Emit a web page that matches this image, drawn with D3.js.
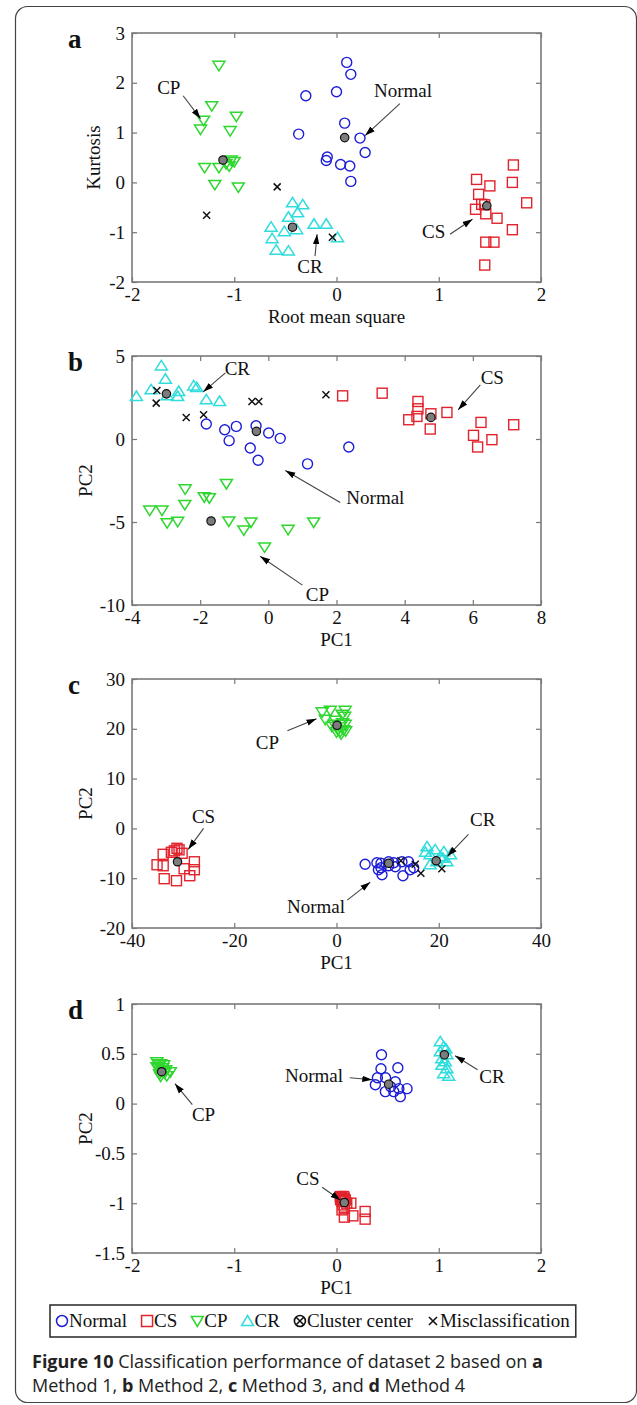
<!DOCTYPE html>
<html>
<head>
<meta charset="utf-8">
<script src="https://d3js.org/d3.v7.min.js"></script>
<style>
	body { margin: 0; background: #fff; }
	svg text { font-family: "Liberation Serif", "Times New Roman", serif; }
	svg .caption text { font-family: "Open Sans", "Noto Sans", sans-serif; }
</style>
</head>
<body>
<script>
// panel a : Method 1
const aNormal = [[0.10,2.41],[0.14,2.17],[-0.30,1.74],[0.00,1.82],[0.08,1.19],[-0.37,0.97],[0.23,0.89],[0.28,0.60],[-0.09,0.51],[-0.10,0.44],[0.04,0.36],[0.13,0.33],[0.14,0.02]];
const aCS = [[1.73,0.35],[1.72,0.00],[1.37,0.06],[1.50,-0.07],[1.39,-0.24],[1.86,-0.41],[1.42,-0.44],[1.36,-0.54],[1.46,-0.63],[1.57,-0.72],[1.72,-0.95],[1.46,-1.20],[1.54,-1.20],[1.45,-1.66],[1.45,-0.45]];
const aCP = [[-1.15,2.35],[-1.22,1.54],[-0.98,1.33],[-1.30,1.25],[-1.33,1.07],[-1.04,1.04],[-1.29,0.30],[-1.15,0.30],[-1.05,0.33],[-1.00,0.42],[-1.03,0.45],[-1.08,0.38],[-1.19,-0.04],[-0.96,-0.09]];
const aCR = [[-0.43,-0.41],[-0.33,-0.45],[-0.38,-0.61],[-0.47,-0.70],[-0.64,-0.90],[-0.51,-0.99],[-0.39,-0.95],[-0.22,-0.84],[-0.10,-0.84],[-0.63,-1.13],[0.01,-1.11],[-0.59,-1.36],[-0.47,-1.38]];
const aCenter = [[0.08,0.90],[1.47,-0.47],[-1.11,0.45],[-0.43,-0.90]];
const aMis = [[-0.58,-0.09],[-1.27,-0.66],[-0.04,-1.10]];
const aTicksX = [-2,-1,0,1,2];
const aTicksY = [-2,-1,0,1,2,3];
const aNotes = [
	{text: 'CP', at: [-1.64,1.90], from: [-1.50,1.74], to: [-1.33,1.28]},
	{text: 'Normal', at: [0.65,1.84], from: [0.62,1.58], to: [0.28,0.94]},
	{text: 'CR', at: [-0.26,-1.68], from: [-0.21,-1.48], to: [-0.19,-1.04]},
	{text: 'CS', at: [0.95,-0.98], from: [1.11,-1.04], to: [1.33,-0.74]}
];

// panel b : Method 2
const bNormal = [[-1.82,0.90],[-1.28,0.56],[-0.94,0.76],[-1.15,-0.10],[-0.36,0.80],[0.01,0.36],[0.35,0.04],[-0.53,-0.54],[-0.30,-1.28],[1.15,-1.50],[2.36,-0.48]];
const bCS = [[2.18,2.60],[3.34,2.76],[4.39,2.26],[4.39,1.82],[4.36,1.36],[4.12,1.16],[4.77,1.52],[5.24,1.60],[4.75,0.60],[6.24,1.00],[7.20,0.86],[6.02,0.22],[6.56,-0.04],[6.14,-0.48]];
const bCP = [[-2.44,-3.00],[-1.23,-2.68],[-1.88,-3.48],[-1.73,-3.54],[-2.45,-3.94],[-3.48,-4.28],[-3.12,-4.28],[-2.97,-5.04],[-2.66,-4.96],[-1.16,-4.94],[-0.51,-5.00],[-0.72,-5.48],[0.58,-5.44],[1.33,-5.00],[-0.11,-6.50]];
const bCR = [[-3.14,4.40],[-3.02,3.60],[-3.44,2.96],[-3.87,2.56],[-2.19,3.20],[-2.10,3.10],[-2.63,2.86],[-2.66,2.56],[-1.82,2.36],[-1.43,2.26],[-2.97,2.60]];
const bCenter = [[-0.35,0.46],[4.77,1.30],[-1.68,-4.94],[-2.99,2.72]];
const bMis = [[-3.27,2.92],[-3.29,2.16],[-2.41,1.30],[-1.90,1.46],[-0.48,2.26],[-0.28,2.26],[1.69,2.66]];
const bTicksX = [-4,-2,0,2,4,6,8];
const bTicksY = [-10,-5,0,5];
const bNotes = [
	{text: 'CR', at: [-0.91,4.28], from: [-1.26,3.98], to: [-1.91,2.84]},
	{text: 'CS', at: [6.57,3.74], from: [6.22,3.26], to: [5.57,1.76]},
	{text: 'Normal', at: [3.14,-3.52], from: [2.11,-3.82], to: [0.50,-1.90]},
	{text: 'CP', at: [1.44,-9.34], from: [1.00,-8.80], to: [-0.24,-7.06]}
];

// panel c : Method 3
const cNormal = [[5.6,-7.2],[7.9,-6.9],[8.7,-7.0],[10.2,-6.7],[11.2,-6.9],[12.8,-6.7],[14.1,-6.7],[8.2,-8.3],[10.2,-7.5],[11.5,-7.7],[14.4,-8.3],[15.1,-7.9],[13.0,-9.5],[8.9,-9.3],[8.7,-7.9]];
const cCS = [[-31.2,-4.0],[-30.8,-4.3],[-31.7,-4.5],[-32.3,-4.8],[-30.2,-5.0],[-33.9,-5.2],[-35.1,-7.3],[-33.9,-7.5],[-27.8,-6.7],[-29.8,-8.1],[-27.8,-8.3],[-28.7,-9.5],[-33.7,-10.1],[-31.3,-10.5]];
const cCP = [[-2.8,23.4],[-1.2,23.7],[1.7,23.7],[1.6,22.5],[-2.2,21.9],[-0.2,21.7],[1.7,20.9],[0.7,19.5],[-0.9,20.5],[1.1,22.9],[0.3,19.8],[1.4,19.8],[0.6,20.4],[1.2,21.2],[0.0,19.4],[1.8,19.6],[0.9,19.0],[-0.4,20.9]];
const cCR = [[17.7,-3.7],[19.3,-4.3],[21.0,-4.7],[22.3,-5.3],[20.3,-5.7],[18.3,-5.3],[17.4,-4.8],[21.6,-6.7],[19.6,-6.7],[18.3,-7.3],[20.8,-6.0]];
const cCenter = [[10.2,-7.0],[-31.1,-6.7],[0.1,20.7],[19.5,-6.5]];
const cMis = [[12.6,-6.5],[15.4,-7.2],[16.5,-9.0],[20.6,-8.1]];
const cTicksX = [-40,-20,0,20,40];
const cTicksY = [-20,-10,0,10,20,30];
const cNotes = [
	{text: 'CP', at: [-13.5,17.2], from: [-9.6,19.6], to: [-3.9,22.0]},
	{text: 'CS', at: [-26.0,2.4], from: [-26.0,0.0], to: [-29.0,-4.2]},
	{text: 'CR', at: [28.6,1.8], from: [25.8,-1.2], to: [21.7,-5.6]},
	{text: 'Normal', at: [-4.0,-15.6], from: [2.1,-14.4], to: [6.6,-10.8]}
];

// panel d : Method 4
const dNormal = [[0.44,0.49],[0.435,0.35],[0.60,0.36],[0.40,0.26],[0.48,0.26],[0.38,0.19],[0.478,0.12],[0.56,0.12],[0.61,0.15],[0.69,0.15],[0.624,0.07],[0.53,0.17],[0.575,0.22]];
const dCS = [[0.037,-0.933],[0.07,-0.933],[0.086,-0.967],[0.054,-0.983],[0.063,-1.017],[0.10,-1.0],[0.14,-1.0],[0.054,-1.067],[0.077,-1.05],[0.077,-1.14],[0.16,-1.127],[0.28,-1.083],[0.28,-1.16],[0.045,-0.95],[0.06,-0.96],[0.05,-0.94],[0.075,-0.95],[0.065,-0.975],[0.04,-0.965]];
const dCP = [[-1.756,0.42],[-1.72,0.40],[-1.69,0.39],[-1.72,0.32],[-1.67,0.34],[-1.625,0.32],[-1.72,0.275],[-1.66,0.28],[-1.756,0.37],[-1.74,0.36],[-1.70,0.36],[-1.74,0.40],[-1.70,0.33],[-1.73,0.30],[-1.68,0.31]];
const dCR = [[1.015,0.62],[1.048,0.57],[1.08,0.49],[1.015,0.52],[1.064,0.42],[1.08,0.35],[1.048,0.30],[1.097,0.275],[1.03,0.385],[1.03,0.45],[1.07,0.55]];
const dCenter = [[0.51,0.195],[0.077,-0.993],[-1.71,0.32],[1.055,0.49]];
const dMis = [];
const dTicksX = [-2,-1,0,1,2];
const dTicksY = [-1.5,-1,-0.5,0,0.5,1];
const dNotes = [
	{text: 'CP', at: [-1.30,-0.11], from: [-1.41,-0.01], to: [-1.58,0.20]},
	{text: 'Normal', at: [-0.22,0.28], from: [0.13,0.26], to: [0.35,0.24]},
	{text: 'CR', at: [1.52,0.27], from: [1.38,0.34], to: [1.16,0.48]},
	{text: 'CS', at: [-0.28,-0.75], from: [-0.14,-0.84], to: [0.04,-0.97]}
];

const legendNames = ['Normal', 'CS', 'CP', 'CR', 'Cluster center', 'Misclassification'];

const colors = {normal: '#1d1dd8', cs: '#e2232c', cp: '#2fd62f', cr: '#30dcdc'};

class Scatter {
	constructor(svg, cfg) {
		this._svg = svg;
		this._cfg = cfg;
		this._left = 132;
		this._top = cfg.top;
		this._width = 409;
		this._height = 249;
		this._scaleX = d3.scaleLinear().domain(cfg.xDomain).range([0, this._width]);
		this._scaleY = d3.scaleLinear().domain(cfg.yDomain).range([this._height, 0]);
		this._body = null;
	}
	render() {
		this._body = this._svg.append('g')
			.attr('transform', `translate(${this._left},${this._top})`);
		this.renderAxes();
		this.renderPoints();
		this.renderNotes();
		this.renderLabels();
	}
	renderAxes() {
		let fmt = d => String(d);
		let cfg = this._cfg;
		let axes = [
			{axis: d3.axisBottom(this._scaleX).tickValues(cfg.xTicks).tickFormat(fmt).tickPadding(6), t: `translate(0,${this._height})`},
			{axis: d3.axisTop(this._scaleX).tickValues(cfg.xTicks).tickFormat(''), t: 'translate(0,0)'},
			{axis: d3.axisLeft(this._scaleY).tickValues(cfg.yTicks).tickFormat(fmt).tickPadding(7), t: 'translate(0,0)'},
			{axis: d3.axisRight(this._scaleY).tickValues(cfg.yTicks).tickFormat(''), t: `translate(${this._width},0)`}
		];
		axes.forEach(a => {
			this._body.append('g')
				.attr('class', 'axis')
				.attr('transform', a.t)
				.call(a.axis.tickSizeInner(-5).tickSizeOuter(0))
				.attr('font-family', null)
				.attr('font-size', 19)
		});
		this._body.selectAll('.axis .domain').remove();
		this._body.selectAll('.axis line').attr('stroke', '#777').attr('stroke-width', 1.2);
		this._body.selectAll('.axis text').attr('fill', '#111');
		this._body.append('rect')
			.attr('width', this._width)
			.attr('height', this._height)
			.attr('fill', 'none')
			.attr('stroke', '#7a7a7a')
			.attr('stroke-width', 1.6)
	}
	renderPoints() {
		let sx = this._scaleX, sy = this._scaleY, s = this._cfg.series;
		let pos = d => `translate(${sx(d[0])},${sy(d[1])})`;

		this._body.selectAll('circle.normal')
			.data(s.normal)
			.join('circle')
			.attr('class', 'normal')
			.attr('cx', d => sx(d[0]))
			.attr('cy', d => sy(d[1]))
			.attr('r', 5)
			.attr('fill', 'none')
			.attr('stroke', colors.normal)
			.attr('stroke-width', 1.4)

		this._body.selectAll('rect.cs')
			.data(s.cs)
			.join('rect')
			.attr('class', 'cs')
			.attr('x', d => sx(d[0]) - 5)
			.attr('y', d => sy(d[1]) - 5)
			.attr('width', 10)
			.attr('height', 10)
			.attr('fill', 'none')
			.attr('stroke', colors.cs)
			.attr('stroke-width', 1.4)

		this._body.selectAll('path.cp')
			.data(s.cp)
			.join('path')
			.attr('class', 'cp')
			.attr('d', 'M-6,-4L6,-4L0,5.5Z')
			.attr('transform', pos)
			.attr('fill', 'none')
			.attr('stroke', colors.cp)
			.attr('stroke-width', 1.5)

		this._body.selectAll('path.cr')
			.data(s.cr)
			.join('path')
			.attr('class', 'cr')
			.attr('d', 'M0,-5.5L6,4L-6,4Z')
			.attr('transform', pos)
			.attr('fill', 'none')
			.attr('stroke', colors.cr)
			.attr('stroke-width', 1.5)

		this._body.selectAll('circle.center')
			.data(s.center)
			.join('circle')
			.attr('class', 'center')
			.attr('cx', d => sx(d[0]))
			.attr('cy', d => sy(d[1]))
			.attr('r', 4.2)
			.attr('fill', '#7c7c7c')
			.attr('stroke', '#111')
			.attr('stroke-width', 1.2)

		this._body.selectAll('path.mis')
			.data(s.mis)
			.join('path')
			.attr('class', 'mis')
			.attr('d', 'M-3.5,-3.5L3.5,3.5M-3.5,3.5L3.5,-3.5')
			.attr('transform', pos)
			.attr('stroke', '#111')
			.attr('stroke-width', 1.5)
	}
	renderNotes() {
		let sx = this._scaleX, sy = this._scaleY;
		let notes = this._body.selectAll('g.note')
			.data(this._cfg.notes)
			.join('g')
			.attr('class', 'note');

		notes.append('line')
			.attr('x1', d => sx(d.from[0]))
			.attr('y1', d => sy(d.from[1]))
			.attr('x2', d => sx(d.to[0]))
			.attr('y2', d => sy(d.to[1]))
			.attr('stroke', '#444')
			.attr('stroke-width', 1.1)
			.attr('marker-end', 'url(#arrow)')

		notes.append('text')
			.attr('x', d => sx(d.at[0]))
			.attr('y', d => sy(d.at[1]))
			.attr('dy', '.35em')
			.attr('text-anchor', 'middle')
			.attr('font-size', 19)
			.attr('fill', '#111')
			.text(d => d.text)
	}
	renderLabels() {
		let cfg = this._cfg;
		this._body.append('text')
			.attr('x', this._width / 2)
			.attr('y', this._height + 41)
			.attr('text-anchor', 'middle')
			.attr('font-size', 19)
			.attr('fill', '#111')
			.text(cfg.xLabel)

		this._body.append('text')
			.attr('transform', `translate(${cfg.yLabelX},${this._height / 2}) rotate(-90)`)
			.attr('text-anchor', 'middle')
			.attr('font-size', 19)
			.attr('fill', '#111')
			.text(cfg.yLabel)

		this._body.append('text')
			.attr('x', -64)
			.attr('y', 15)
			.attr('font-size', 27)
			.attr('font-weight', 'bold')
			.attr('fill', '#111')
			.text(cfg.letter)
	}
}

let svg = d3.select('body')
	.append('svg')
	.attr('width', 637)
	.attr('height', 1405)

// arrow head used by every annotation
svg.append('defs')
	.append('marker')
	.attr('id', 'arrow')
	.attr('viewBox', '0 0 10 10')
	.attr('refX', 10)
	.attr('refY', 5)
	.attr('markerWidth', 10)
	.attr('markerHeight', 10)
	.attr('markerUnits', 'userSpaceOnUse')
	.attr('orient', 'auto')
	.append('path')
	.attr('d', 'M0,1.8L10,5L0,8.2Z')
	.attr('fill', '#000')

svg.append('rect')
	.attr('x', 15.5)
	.attr('y', 6.5)
	.attr('width', 621)
	.attr('height', 1396)
	.attr('rx', 12)
	.attr('fill', 'none')
	.attr('stroke', '#444')
	.attr('stroke-width', 1.2)

const panels = [
	{letter: 'a', top: 33, xDomain: [-2,2], yDomain: [-2,3], xTicks: aTicksX, yTicks: aTicksY, xLabel: 'Root mean square', yLabel: 'Kurtosis', yLabelX: -32, notes: aNotes,
		series: {normal: aNormal, cs: aCS, cp: aCP, cr: aCR, center: aCenter, mis: aMis}},
	{letter: 'b', top: 356, xDomain: [-4,8], yDomain: [-10,5], xTicks: bTicksX, yTicks: bTicksY, xLabel: 'PC1', yLabel: 'PC2', yLabelX: -40, notes: bNotes,
		series: {normal: bNormal, cs: bCS, cp: bCP, cr: bCR, center: bCenter, mis: bMis}},
	{letter: 'c', top: 679, xDomain: [-40,40], yDomain: [-20,30], xTicks: cTicksX, yTicks: cTicksY, xLabel: 'PC1', yLabel: 'PC2', yLabelX: -40, notes: cNotes,
		series: {normal: cNormal, cs: cCS, cp: cCP, cr: cCR, center: cCenter, mis: cMis}},
	{letter: 'd', top: 1004, xDomain: [-2,2], yDomain: [-1.5,1], xTicks: dTicksX, yTicks: dTicksY, xLabel: 'PC1', yLabel: 'PC2', yLabelX: -40, notes: dNotes,
		series: {normal: dNormal, cs: dCS, cp: dCP, cr: dCR, center: dCenter, mis: dMis}}
];
panels.forEach(cfg => new Scatter(svg, cfg).render());

// legend
let legend = svg.append('g').attr('class', 'legend');
let kinds = ['normal', 'cs', 'cp', 'cr', 'center', 'mis'];
let lx = 56, ly = 1321;
kinds.forEach((k, i) => {
	let g = legend.append('g').attr('transform', `translate(${lx + 6},${ly})`);
	if(k == 'normal') g.append('circle').attr('r', 5.5).attr('fill', 'none').attr('stroke', colors.normal).attr('stroke-width', 1.5);
	if(k == 'cs') g.append('rect').attr('x', -5.5).attr('y', -5.5).attr('width', 11).attr('height', 11).attr('fill', 'none').attr('stroke', colors.cs).attr('stroke-width', 1.5);
	if(k == 'cp') g.append('path').attr('d', 'M-6,-4.5L6,-4.5L0,5.5Z').attr('fill', 'none').attr('stroke', colors.cp).attr('stroke-width', 1.5);
	if(k == 'cr') g.append('path').attr('d', 'M0,-5.5L6,4.5L-6,4.5Z').attr('fill', 'none').attr('stroke', colors.cr).attr('stroke-width', 1.5);
	if(k == 'center') {
		g.append('circle').attr('r', 5.5).attr('fill', 'none').attr('stroke', '#111').attr('stroke-width', 1.6);
		g.append('path').attr('d', 'M-3.8,-3.8L3.8,3.8M-3.8,3.8L3.8,-3.8').attr('stroke', '#111').attr('stroke-width', 1.6);
	}
	if(k == 'mis') g.append('path').attr('d', 'M-4,-4L4,4M-4,4L4,-4').attr('stroke', '#111').attr('stroke-width', 1.6);
	let t = legend.append('text')
		.attr('x', lx + 13)
		.attr('y', ly + 6)
		.attr('font-size', 19)
		.attr('fill', '#111')
		.text(legendNames[i]);
	lx += 13 + t.node().getComputedTextLength() + 14;
});
legend.insert('rect', ':first-child')
	.attr('x', 50)
	.attr('y', 1305)
	.attr('width', lx - 14 + 6 - 50)
	.attr('height', 32)
	.attr('fill', '#fff')
	.attr('stroke', '#333')
	.attr('stroke-width', 1.6)

// caption
let cap = svg.append('g').attr('class', 'caption').attr('fill', '#222').attr('font-size', 18).style('white-space', 'pre');
let line1 = cap.append('text').attr('x', 32).attr('y', 1368);
line1.append('tspan').attr('font-weight', 'bold').text('Figure 10');
line1.append('tspan').text('  Classification performance of dataset 2 based on ');
line1.append('tspan').attr('font-weight', 'bold').text('a');
let line2 = cap.append('text').attr('x', 32).attr('y', 1392);
[['Method 1, ', false], ['b', true], [' Method 2, ', false], ['c', true], [' Method 3, and ', false], ['d', true], [' Method 4', false]]
	.forEach(p => line2.append('tspan').attr('font-weight', p[1] ? 'bold' : null).text(p[0]));
</script>
</body>
</html>
